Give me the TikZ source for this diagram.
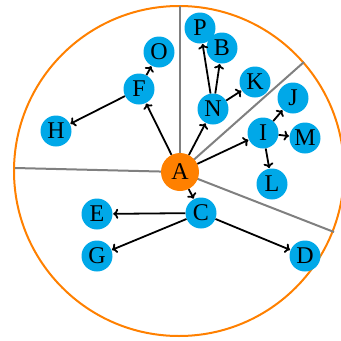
\documentclass[tikz,border=0pt]{standalone}
\usepackage{fontspec}
\setmainfont{Liberation Serif}
\usetikzlibrary{arrows.meta}
\definecolor{nodeblue}{RGB}{0,168,232}
\definecolor{rootorange}{RGB}{255,128,0}
\definecolor{divgray}{RGB}{128,128,128}
\newcommand{\nodeletters}{\fontsize{24}{24}\selectfont}
\begin{document}
\begin{tikzpicture}[x=1pt,y=-1pt,
  leaf/.style={circle,fill=nodeblue,inner sep=0pt,minimum size=31pt,font=\nodeletters},
  root/.style={circle,fill=rootorange,inner sep=0pt,minimum size=38pt,font=\nodeletters},
  link/.style={-{To[length=5pt,width=10pt]},line width=1.8pt,black,shorten >=0.5pt},
  divider/.style={divgray,line width=2pt}]
\useasboundingbox (0,0) rectangle (341,341);
\coordinate (ctr) at (179,171);
\draw[rootorange,line width=2pt] (ctr) circle (165);
\coordinate (Acen) at (180,172);
\coordinate (d1) at (180,6);
\coordinate (d2) at (15,168);
\coordinate (d3) at (304,62);
\coordinate (d4) at (334,232);
\draw[divider] (Acen) -- (d1);
\draw[divider] (Acen) -- (d2);
\draw[divider] (Acen) -- (d3);
\draw[divider] (Acen) -- (d4);
\node[root] (A) at (Acen) {A};
\node[leaf] (P) at (200,28) {P};
\node[leaf] (B) at (222,48) {B};
\node[leaf] (O) at (159,52) {O};
\node[leaf] (F) at (139,89) {F};
\node[leaf] (K) at (255,82) {K};
\node[leaf] (N) at (213,109) {N};
\node[leaf] (J) at (293,98) {J};
\node[leaf] (H) at (56,131) {H};
\node[leaf] (I) at (263,133) {I};
\node[leaf] (M) at (305,138) {M};
\node[leaf] (L) at (272,184) {L};
\node[leaf] (C) at (201,213) {C};
\node[leaf] (E) at (97,214) {E};
\node[leaf] (G) at (97,256) {G};
\node[leaf] (D) at (305,256) {D};
\draw[link] (A) -- (F);
\draw[link] (A) -- (N);
\draw[link] (A) -- (I);
\draw[link] (A) -- (C);
\draw[link] (F) -- (O);
\draw[link] (F) -- (H);
\draw[link] (N) -- (P);
\draw[link] (N) -- (B);
\draw[link] (N) -- (K);
\draw[link] (I) -- (J);
\draw[link] (I) -- (M);
\draw[link] (I) -- (L);
\draw[link] (C) -- (E);
\draw[link] (C) -- (G);
\draw[link] (C) -- (D);
\end{tikzpicture}
\end{document}
